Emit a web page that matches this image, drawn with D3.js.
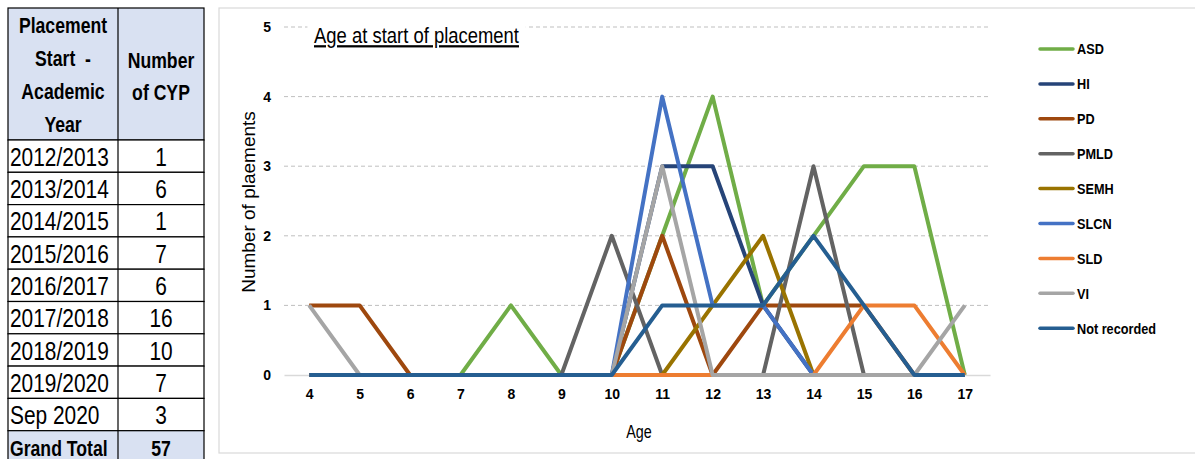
<!DOCTYPE html>
<html>
<head>
<meta charset="utf-8">
<script src="https://cdnjs.cloudflare.com/ajax/libs/d3/7.8.5/d3.min.js"></script>
<style>
  body { margin: 0; background: #fff; }
  svg { display: block; }
  text { font-family: "Liberation Sans", Arial, sans-serif; fill: #000; }
</style>
</head>
<body>
<svg id="chart" width="1195" height="459"></svg>
<script>
// table data
const years = ["2012/2013", "2013/2014", "2014/2015", "2015/2016", "2016/2017", "2017/2018", "2018/2019", "2019/2020", "Sep 2020"];
const cypCounts = [1, 6, 1, 7, 6, 16, 10, 7, 3];
const grandTotal = 57;

// chart data
const ages = [4, 5, 6, 7, 8, 9, 10, 11, 12, 13, 14, 15, 16, 17];
const yTicks = [0, 1, 2, 3, 4, 5];
const seriesNames = ["ASD", "HI", "PD", "PMLD", "SEMH", "SLCN", "SLD", "VI", "Not recorded"];
const seriesColors = ["#70AD47", "#264478", "#9E480E", "#636363", "#997300", "#4472C4", "#ED7D31", "#A5A5A5", "#255E91"];
const asd         = [0, 0, 0, 0, 1, 0, 0, 2, 4, 1, 2, 3, 3, 0];
const hi          = [0, 0, 0, 0, 0, 0, 0, 3, 3, 1, 0, 0, 0, 0];
const pd          = [1, 1, 0, 0, 0, 0, 0, 2, 0, 1, 1, 1, 0, 0];
const pmld        = [0, 0, 0, 0, 0, 0, 2, 0, 0, 0, 3, 0, 0, 0];
const semh        = [0, 0, 0, 0, 0, 0, 0, 0, 1, 2, 0, 0, 0, 0];
const slcn        = [0, 0, 0, 0, 0, 0, 0, 4, 1, 1, 0, 0, 0, 0];
const sld         = [0, 0, 0, 0, 0, 0, 0, 0, 0, 0, 0, 1, 1, 0];
const vi          = [1, 0, 0, 0, 0, 0, 0, 3, 0, 0, 0, 0, 0, 1];
const notRecorded = [0, 0, 0, 0, 0, 0, 0, 1, 1, 1, 2, 1, 0, 0];
const seriesValues = [asd, hi, pd, pmld, semh, slcn, sld, vi, notRecorded];

const NARROW = 0.82; // squeeze Liberation Sans to look like a condensed face
const svg = d3.select("#chart");
const at = (x, y) => `translate(${x},${y}) scale(${NARROW},1)`;

// ---- table ----
const tbl = { left: 8, mid: 118, right: 204, top: 8, headBottom: 140, rowH: 32.3 };
const rows = years.map((y, i) => ({ label: y, value: cypCounts[i], bold: false }));
rows.push({ label: "Grand Total", value: grandTotal, bold: true });

const table = svg.append("g").attr("class", "table");
table.append("rect")
  .attr("x", tbl.left).attr("y", tbl.top)
  .attr("width", tbl.right - tbl.left).attr("height", tbl.headBottom - tbl.top)
  .attr("fill", "#D9E1F2").attr("stroke", "#000").attr("stroke-width", 1.2);

const headLeft = ["Placement", "Start  -", "Academic", "Year"];
const headRight = ["Number", "of CYP"];
table.selectAll(".hl").data(headLeft).join("text")
  .attr("transform", (d, i) => at((tbl.left + tbl.mid) / 2, 25 + i * 33))
  .attr("text-anchor", "middle").attr("dominant-baseline", "central")
  .attr("font-weight", "bold").attr("font-size", 21.5)
  .style("white-space", "pre").text(d => d);
table.selectAll(".hr").data(headRight).join("text")
  .attr("transform", (d, i) => at((tbl.mid + tbl.right) / 2, 60 + i * 32))
  .attr("text-anchor", "middle").attr("dominant-baseline", "central")
  .attr("font-weight", "bold").attr("font-size", 21.5).text(d => d);

const rowG = table.selectAll(".row").data(rows).join("g")
  .attr("transform", (d, i) => `translate(0,${tbl.headBottom + i * tbl.rowH})`);
rowG.append("rect")
  .attr("x", tbl.left).attr("width", tbl.right - tbl.left).attr("height", tbl.rowH)
  .attr("fill", d => d.bold ? "#D9E1F2" : "#fff").attr("stroke", "#000").attr("stroke-width", 1.2);
rowG.append("text")
  .attr("transform", at(tbl.left + 2, tbl.rowH / 2 + 1))
  .attr("dominant-baseline", "central")
  .attr("font-weight", d => d.bold ? "bold" : "normal")
  .attr("font-size", d => d.bold ? 21.5 : 25.5).text(d => d.label);
rowG.append("text")
  .attr("transform", at((tbl.mid + tbl.right) / 2, tbl.rowH / 2 + 1))
  .attr("text-anchor", "middle").attr("dominant-baseline", "central")
  .attr("font-weight", d => d.bold ? "bold" : "normal")
  .attr("font-size", d => d.bold ? 21.5 : 25.5).text(d => d.value);
table.append("line")
  .attr("x1", tbl.mid).attr("x2", tbl.mid).attr("y1", tbl.top).attr("y2", 459)
  .attr("stroke", "#000").attr("stroke-width", 1.2);

// ---- chart ----
svg.append("rect")
  .attr("x", 219).attr("y", 8).attr("width", 1000).attr("height", 445)
  .attr("fill", "#fff").attr("stroke", "#D9D9D9").attr("stroke-width", 1.2);

const plot = { left: 284, right: 990, top: 27, bottom: 375 };
const x = d3.scalePoint().domain(ages).range([plot.left, plot.right]).padding(0.5);
const y = d3.scaleLinear().domain([0, 5]).range([plot.bottom, plot.top]);

// gridlines
svg.append("g").selectAll("line").data(yTicks.filter(t => t > 0)).join("line")
  .attr("x1", plot.left).attr("x2", plot.right)
  .attr("y1", d => y(d)).attr("y2", d => y(d))
  .attr("stroke", "#BFBFBF").attr("stroke-width", 1).attr("stroke-dasharray", "4,3");

// y axis
const yAxis = svg.append("g")
  .attr("transform", `translate(${plot.left - 13},0)`)
  .call(d3.axisLeft(y).tickValues(yTicks).tickFormat(d3.format("d")).tickSize(0).tickPadding(0));
yAxis.select(".domain").remove();

// x axis
const xAxis = svg.append("g")
  .attr("transform", `translate(0,${plot.bottom})`)
  .call(d3.axisBottom(x).tickSize(0).tickPadding(14));
xAxis.select(".domain").attr("stroke", "#D9D9D9").attr("stroke-width", 1.5);

svg.selectAll(".tick text")
  .attr("font-size", 14).attr("font-weight", "bold").attr("fill", "#000")
  .attr("font-family", null);

// lines
const line = d3.line().x((d, i) => x(ages[i])).y(d => y(d));
svg.append("g").selectAll("path").data(seriesValues).join("path")
  .attr("d", line)
  .attr("fill", "none")
  .attr("stroke", (d, i) => seriesColors[i])
  .attr("stroke-width", 4)
  .attr("stroke-linejoin", "round");

// title (white box breaks the top gridline)
const titleG = svg.append("g").attr("transform", at(314, 43));
const titleBg = titleG.append("rect").attr("fill", "#fff");
const title = titleG.append("text")
  .attr("font-size", 22.5).attr("text-decoration", "underline")
  .text("Age at start of placement");
const tb = title.node().getBBox();
titleBg.attr("x", tb.x - 8).attr("y", tb.y).attr("width", tb.width + 16).attr("height", tb.height + 4);

// axis titles
svg.append("text")
  .attr("transform", at((x(10) + x(11)) / 2 + 2, 438))
  .attr("text-anchor", "middle").attr("font-size", 17.5)
  .text("Age");
svg.append("text")
  .attr("transform", "translate(255,202) rotate(-90)")
  .attr("text-anchor", "middle").attr("font-size", 19)
  .text("Number of plaements");

// legend
const legend = svg.append("g").selectAll("g").data(seriesNames).join("g")
  .attr("transform", (d, i) => `translate(1040,${49 + i * 34.9})`);
legend.append("line")
  .attr("x1", 0).attr("x2", 33)
  .attr("stroke", (d, i) => seriesColors[i]).attr("stroke-width", 3.5).attr("stroke-linecap", "round");
legend.append("text")
  .attr("transform", at(37, 0))
  .attr("dominant-baseline", "central")
  .attr("font-size", 15.5).attr("font-weight", "bold")
  .text(d => d);
</script>
</body>
</html>
